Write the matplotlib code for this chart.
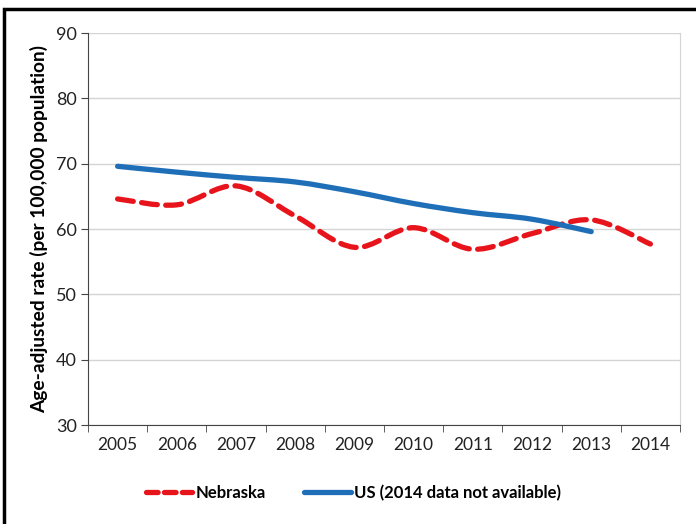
import numpy as np
import matplotlib
matplotlib.use('Agg')
import matplotlib.pyplot as plt
from matplotlib.path import Path
from matplotlib.patches import PathPatch, Rectangle
from matplotlib.lines import Line2D

plt.rcParams['font.family'] = ['Lato', 'DejaVu Sans']

# Data
years = ['2005', '2006', '2007', '2008', '2009', '2010', '2011', '2012', '2013', '2014']
nebraska = [64.6, 63.7, 66.6, 62.0, 57.2, 60.2, 56.9, 59.3, 61.4, 57.7]
us = [69.6, 68.7, 67.9, 67.2, 65.7, 63.9, 62.5, 61.5, 59.6]

RED = '#E8141B'
BLUE = '#1F6FB8'


def smooth_path(y):
    # Excel style smoothed line: cubic bezier through each point
    x = np.arange(len(y), dtype=float)
    y = np.asarray(y, dtype=float)
    n = len(y)
    verts = [(x[0], y[0])]
    codes = [Path.MOVETO]
    for i in range(n - 1):
        p0 = np.array([x[max(i - 1, 0)], y[max(i - 1, 0)]])
        p1 = np.array([x[i], y[i]])
        p2 = np.array([x[i + 1], y[i + 1]])
        p3 = np.array([x[min(i + 2, n - 1)], y[min(i + 2, n - 1)]])
        c1 = p1 + (p2 - p0) / 6.0
        c2 = p2 - (p3 - p1) / 6.0
        verts += [tuple(c1), tuple(c2), tuple(p2)]
        codes += [Path.CURVE4] * 3
    return Path(verts, codes)


fig = plt.figure(figsize=(6.96, 5.24), dpi=100)
ax = fig.add_axes([88 / 696, (524 - 425) / 524, (680 - 88) / 696, (425 - 33) / 524])

neb_patch = PathPatch(smooth_path(nebraska), fill=False, edgecolor=RED, lw=3.8,
                      linestyle=(0, (3.0, 1.6)), zorder=3)
neb_patch.set_capstyle('round')
ax.add_patch(neb_patch)
us_patch = PathPatch(smooth_path(us), fill=False, edgecolor=BLUE, lw=3.8, zorder=4)
us_patch.set_capstyle('round')
ax.add_patch(us_patch)

ax.set_xlim(-0.5, len(years) - 0.5)
ax.set_ylim(30, 90)
ax.set_yticks(np.arange(30, 91, 10))
ax.set_xticks(np.arange(len(years)))
ax.set_xticklabels(years)
ax.set_xticks(np.arange(len(years) + 1) - 0.5, minor=True)
ax.tick_params(axis='x', which='major', length=0, pad=9, labelsize=12.5, colors='#222222')
ax.tick_params(axis='x', which='minor', length=5, direction='out', color='#444444')
ax.tick_params(axis='y', length=5, direction='out', color='#444444', labelsize=13,
               labelcolor='#222222', pad=3)

ax.grid(axis='y', color='#D4D4D4', lw=1.0)
ax.set_axisbelow(True)
ax.spines['top'].set_visible(False)
ax.spines['right'].set_color('#D4D4D4')
ax.spines['left'].set_color('#444444')
ax.spines['bottom'].set_color('#444444')

ax.set_ylabel('Age-adjusted rate (per 100,000 population)', fontsize=13.8,
              fontweight='bold', labelpad=6)

handles = [Line2D([], [], color=RED, lw=3.8, linestyle=(0, (2.2, 1.2)), dash_capstyle='round'),
           Line2D([], [], color=BLUE, lw=3.8, solid_capstyle='round')]
leg = fig.legend(handles, ['Nebraska', 'US (2014 data not available)'], loc='center',
                 bbox_to_anchor=(0.508, 1 - 493 / 524), ncol=2, frameon=False,
                 prop={'weight': 'bold', 'size': 12.0}, handlelength=2.8,
                 handletextpad=0.2, columnspacing=2.3)

# outer chart border
fig.add_artist(Rectangle((4 / 696, -0.05), 1.0, 1 - 9 / 524 + 0.05, transform=fig.transFigure,
                         fill=False, edgecolor='black', lw=2.5))

fig.savefig('out.png', dpi=100)
